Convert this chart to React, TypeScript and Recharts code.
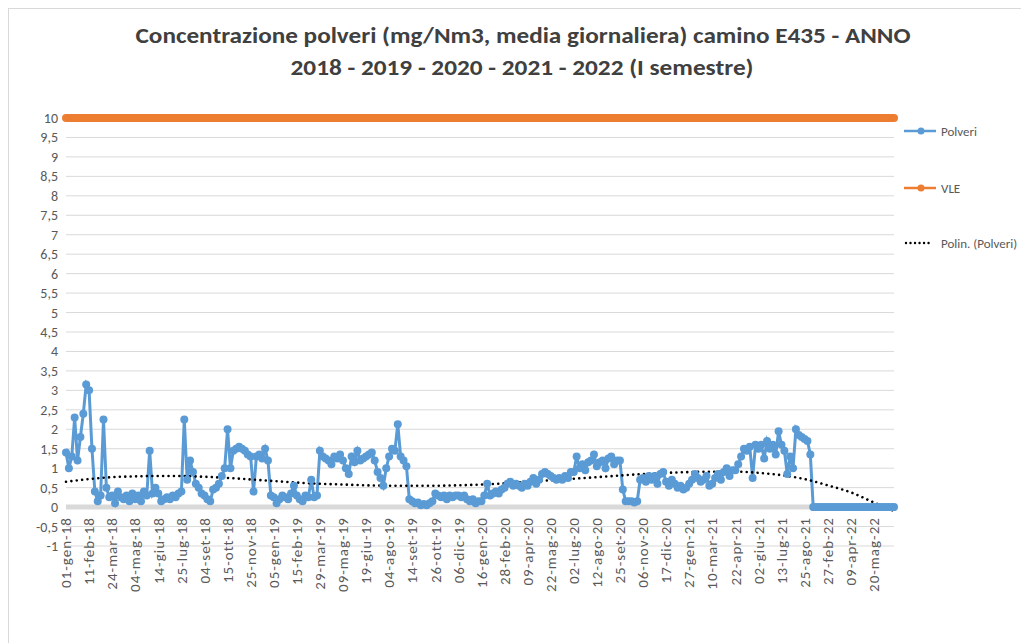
import React from "react";
import { CartesianGrid, Line, LineChart, ReferenceLine, XAxis, YAxis } from "recharts";

// one label every 8 points
const STEP = 8;

const tickLabels = [
  "01-gen-18", "11-feb-18", "24-mar-18", "04-mag-18", "14-giu-18", "25-lug-18",
  "04-set-18", "15-ott-18", "25-nov-18", "05-gen-19", "15-feb-19", "29-mar-19",
  "09-mag-19", "19-giu-19", "04-ago-19", "14-set-19", "26-ott-19", "06-dic-19",
  "16-gen-20", "28-feb-20", "09-apr-20", "22-mag-20", "02-lug-20", "12-ago-20",
  "25-set-20", "06-nov-20", "17-dic-20", "27-gen-21", "10-mar-21", "22-apr-21",
  "02-giu-21", "13-lug-21", "25-ago-21", "27-feb-22", "09-apr-22", "20-mag-22",
];

const polveri = [
  1.4, 1.0, 1.3, 2.3, 1.2, 1.8, 2.4, 3.15,
  3.0, 1.5, 0.4, 0.15, 0.3, 2.25, 0.5, 0.25,
  0.3, 0.1, 0.4, 0.25, 0.2, 0.3, 0.15, 0.35,
  0.2, 0.3, 0.15, 0.4, 0.3, 1.45, 0.35, 0.5,
  0.35, 0.15, 0.2, 0.25, 0.2, 0.3, 0.25, 0.35,
  0.4, 2.25, 0.7, 1.2, 0.9, 0.6, 0.5, 0.35,
  0.3, 0.2, 0.15, 0.45, 0.5, 0.6, 0.8, 1.0,
  2.0, 1.0, 1.45, 1.5, 1.55, 1.5, 1.45, 1.35,
  1.3, 0.4, 1.3, 1.35, 1.25, 1.5, 1.2, 0.3,
  0.25, 0.1, 0.2, 0.3, 0.25, 0.2, 0.35, 0.55,
  0.3, 0.2, 0.15, 0.3, 0.25, 0.7, 0.25, 0.3,
  1.45, 1.3, 1.25, 1.2, 1.1, 1.3, 1.25, 1.35,
  1.2, 1.0, 0.85, 1.3, 1.15, 1.45, 1.2, 1.25,
  1.3, 1.35, 1.4, 1.2, 0.9, 0.75, 0.55, 1.0,
  1.3, 1.5, 1.45, 2.13, 1.3, 1.2, 1.05, 0.2,
  0.15, 0.1, 0.12, 0.05, 0.08, 0.05, 0.1, 0.15,
  0.35, 0.3, 0.25, 0.3, 0.2, 0.3, 0.25, 0.3,
  0.3, 0.25, 0.3, 0.2, 0.15, 0.2, 0.1, 0.15,
  0.15, 0.3, 0.6, 0.3, 0.35, 0.4, 0.35, 0.45,
  0.5, 0.6, 0.65, 0.55, 0.6, 0.55, 0.5, 0.6,
  0.55, 0.65, 0.75, 0.6, 0.7, 0.85, 0.9, 0.85,
  0.8, 0.75, 0.7, 0.75, 0.7, 0.8, 0.75, 0.9,
  0.9, 1.3, 1.0, 1.1, 0.95, 1.15, 1.2, 1.35,
  1.05, 1.15, 1.2, 1.0, 1.25, 1.3, 1.1, 1.2,
  1.2, 0.45, 0.15, 0.15, 0.15, 0.12, 0.15, 0.7,
  0.75, 0.65, 0.8, 0.7, 0.8, 0.6, 0.85, 0.9,
  0.65, 0.55, 0.7, 0.6, 0.5, 0.55, 0.45, 0.5,
  0.6, 0.7, 0.85, 0.75, 0.65, 0.7, 0.8, 0.55,
  0.6, 0.75, 0.85, 0.7, 0.9, 1.0, 0.8, 0.95,
  0.95, 1.1, 1.3, 1.5, 1.45, 1.55, 0.75, 1.6,
  1.5, 1.6, 1.25, 1.7, 1.5, 1.6, 1.35, 1.95,
  1.6, 1.45, 0.85, 1.3, 1.0, 2.0, 1.85, 1.8,
  1.75, 1.7, 1.35, 0, 0, 0, 0, 0,
  0, 0, 0, 0, 0, 0, 0, 0,
  0, 0, 0, 0, 0, 0, 0, 0,
  0, 0, 0, 0, 0, 0, 0, 0,
];

// polynomial trend read at each labelled date, plus the last point
const trendAtTicks = [
  0.65, 0.72, 0.77, 0.79, 0.8, 0.8, 0.78, 0.75, 0.71, 0.67, 0.63, 0.6,
  0.58, 0.56, 0.55, 0.55, 0.55, 0.56, 0.58, 0.61, 0.65, 0.69, 0.73, 0.77,
  0.81, 0.85, 0.88, 0.9, 0.91, 0.91, 0.88, 0.82, 0.72, 0.56, 0.38, 0.12,
];
const trendEnd = -0.1;

const vle = 10;

const yTicks = [-1, -0.5, 0, 0.5, 1, 1.5, 2, 2.5, 3, 3.5, 4, 4.5, 5, 5.5, 6, 6.5, 7, 7.5, 8, 8.5, 9, 9.5, 10];

const data = polveri.map((v, i) => ({
  i,
  polveri: v,
  vle,
  trend: i % STEP === 0 ? trendAtTicks[i / STEP] : i === polveri.length - 1 ? trendEnd : null,
}));

const FONT = "'Carlito', 'Liberation Sans', Arial, sans-serif";
const GREY = "#595959";
const PLOT_H = 428;
const UNIT = PLOT_H / 11;

const XTick = (props: any) => {
  const { x, y, payload } = props;
  // Excel puts the labels at the 0 crossing, not at the bottom of the plot
  const ay = y - UNIT + 10;
  return (
    <text
      x={x}
      y={ay}
      dy="0.35em"
      transform={`rotate(-90, ${x}, ${ay})`}
      textAnchor="end"
      fill={GREY}
      fontSize={15}
      letterSpacing={1}
      fontFamily={FONT}
    >
      {tickLabels[payload.value / STEP]}
    </text>
  );
};

const legendItems = [
  { name: "Polveri", color: "#5B9BD5", top: 120, dotted: false },
  { name: "VLE", color: "#ED7D31", top: 177, dotted: false },
  { name: "Polin. (Polveri)", color: "#000", top: 232, dotted: true },
];

export default function App() {
  return (
    <div style={{ position: "relative", width: 1021, height: 635, borderTop: "1px solid #D9D9D9", borderLeft: "1px solid #D9D9D9", boxSizing: "border-box", fontFamily: FONT }}>
      <svg width={1029} height={100} style={{ position: "absolute", left: -8, top: -8 }}>
        <text x={522} y={42} textAnchor="middle" fontSize={23} fontWeight="bold" fill="#404040" textLength={775} lengthAdjust="spacingAndGlyphs">
          Concentrazione polveri (mg/Nm3, media giornaliera) camino E435 - ANNO
        </text>
        <text x={521} y={74} textAnchor="middle" fontSize={23} fontWeight="bold" fill="#404040" textLength={463} lengthAdjust="spacingAndGlyphs">
          2018 - 2019 - 2020 - 2021 - 2022 (I semestre)
        </text>
      </svg>
      <div style={{ position: "absolute", left: -8, top: -8 }}>
        <LineChart width={1029} height={643} data={data} margin={{ top: 117, right: 136, bottom: 48, left: 15 }}>
          <CartesianGrid vertical={false} stroke="#D9D9D9" />
          <XAxis
            dataKey="i"
            type="number"
            domain={[0, polveri.length - 1]}
            ticks={tickLabels.map((_, k) => k * STEP)}
            interval={0}
            axisLine={false}
            tickLine={false}
            tickSize={0}
            tickMargin={0}
            height={50}
            tick={XTick}
          />
          <YAxis
            domain={[-1, 10]}
            ticks={yTicks}
            interval={0}
            axisLine={false}
            tickLine={false}
            width={50}
            tickFormatter={(v: number) => String(v).replace(".", ",")}
            tick={{ fill: GREY, fontSize: 14, fontFamily: FONT }}
          />
          <ReferenceLine y={0} stroke="#D9D9D9" strokeWidth={5} />
          <Line
            dataKey="polveri"
            type="linear"
            stroke="#5B9BD5"
            strokeWidth={3}
            dot={{ r: 4, fill: "#5B9BD5", stroke: "none" }}
            activeDot={false}
            isAnimationActive={false}
          />
          <Line
            dataKey="vle"
            type="linear"
            stroke="#ED7D31"
            strokeWidth={8}
            strokeLinecap="round"
            dot={false}
            activeDot={false}
            isAnimationActive={false}
          />
          <Line
            dataKey="trend"
            type="monotone"
            connectNulls
            stroke="#000"
            strokeWidth={2.6}
            strokeDasharray="0.01 5.4"
            strokeLinecap="round"
            dot={false}
            activeDot={false}
            isAnimationActive={false}
          />
        </LineChart>
      </div>
      {legendItems.map((it) => (
        <div key={it.name} style={{ position: "absolute", left: 895 - 8, top: it.top - 8, display: "flex", alignItems: "center", height: 20 }}>
          <svg width={40} height={20}>
            {it.dotted ? (
              <line x1={10} y1={10} x2={36} y2={10} stroke="#000" strokeWidth={2.4} strokeDasharray="0.01 4.5" strokeLinecap="round" />
            ) : (
              <>
                <line x1={8} y1={10} x2={42} y2={10} stroke={it.color} strokeWidth={2.5} />
                <circle cx={25} cy={10} r={3.5} fill={it.color} />
              </>
            )}
          </svg>
          <span style={{ fontSize: 13, color: GREY, marginLeft: 5 }}>{it.name}</span>
        </div>
      ))}
    </div>
  );
}
